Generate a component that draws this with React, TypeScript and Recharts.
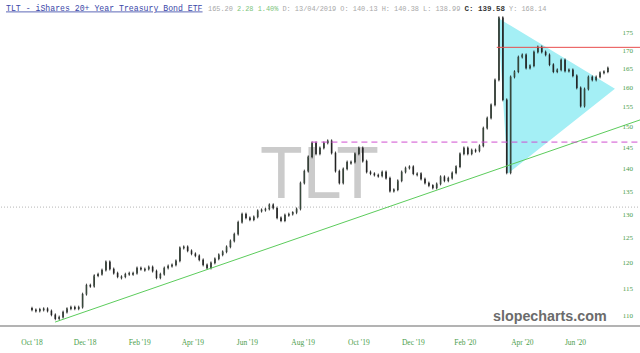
import React from "react";
import { Area, Bar, ComposedChart, ReferenceLine, XAxis, YAxis } from "recharts";

const W = 640;
const H = 353;
const STEP = 3; // trading days between plotted candles

// closes every 3 trading days, starting 1 Oct 2018
const closes = [
  111.1, 110.9, 111.2, 111.3, 110.9, 110.2, 109.5, 109.8, 110.7, 111.3,
  111.6, 111.3, 111.6, 114.0, 115.7, 115.5, 117.5, 117.8, 118.6, 120.2,
  118.8, 118.0, 117.3, 117.3, 117.8, 118.0, 118.0, 119.0, 118.8, 118.8,
  119.2, 118.4, 117.1, 117.8, 119.0, 119.4, 119.6, 120.4, 123.0, 123.2,
  122.4, 121.8, 121.4, 120.6, 119.6, 119.0, 120.0, 120.8, 121.6, 122.2,
  123.2, 124.4, 125.8, 128.3, 130.0, 129.2, 128.8, 129.4, 130.7, 130.9,
  131.1, 132.0, 131.3, 129.2, 128.6, 129.8, 130.0, 130.3, 131.1, 136.8,
  139.5, 142.8, 146.1, 143.5, 144.9, 146.1, 146.6, 143.7, 139.5, 136.8,
  140.0, 141.6, 141.6, 143.5, 144.9, 141.8, 139.3, 138.9, 138.6, 138.4,
  139.3, 137.9, 135.0, 135.3, 137.3, 139.3, 140.2, 140.5, 138.9, 138.9,
  137.7, 136.8, 136.2, 135.7, 136.6, 138.2, 137.3, 137.9, 139.1, 140.5,
  143.5, 144.9, 143.5, 144.4, 144.2, 145.4, 149.7, 152.2, 155.5, 162.0,
  179.4, 156.8, 139.1, 162.8, 164.2, 168.2, 168.8, 165.2, 165.8, 169.6,
  171.0, 169.6, 168.8, 166.1, 164.2, 164.7, 167.4, 164.4, 164.7, 163.1,
  159.9, 155.2, 159.6, 162.8, 162.0, 162.8, 163.9, 164.2, 165.2,
];
const firstOpen = 111.4;

const xTickDays = [0, 41, 83, 124, 166, 209, 252, 294, 334, 378, 419];
const xTickLabels = ["Oct '18", "Dec '18", "Feb '19", "Apr '19", "Jun '19", "Aug '19", "Oct '19", "Dec '19", "Feb '20", "Apr '20", "Jun '20"];
const yTicks = [110, 115, 120, 125, 130, 135, 140, 145, 150, 155, 160, 165, 170, 175];

// triangle drawn on the chart (day, lower, upper)
const triangleDays = [359.1, 366.8, 449.4];
const triangleLow = [179.4, 138.9, 159.7];
const triangleHigh = [179.4, 177.6, 159.7];

const resistance = { from: 358.3, price: 170.9 };
const breakout = { from: 215.4, price: 146.3 };
const trendStart = { d: 17.8, p: 108.9 };
const trendEnd = { d: 469.5, p: 151.8 };
const dottedLevel = 131.5;

const DOMAIN_X: [number, number] = [-24.7, 469.5];
const DOMAIN_Y: [number, number] = [108.2, 184.7];
const AXIS_GREEN = "#4b9e4b";

const chartData = closes.map((c, i) => {
  const prev = i === 0 ? firstOpen : closes[i - 1];
  return { d: i * STEP, body: [Math.min(prev, c), Math.max(prev, c)], up: c >= prev };
});

const triData = triangleDays.map((d, i) => ({ d, tri: [triangleLow[i], triangleHigh[i]] }));

const Candle = (props: any) => {
  const { x, y, width, height, payload } = props;
  if (x == null || y == null) return null;
  const h = Math.max(Math.abs(height), 1.2);
  const top = height < 0 ? y + height : y;
  const mid = x + width / 2;
  return (
    <g>
      <line x1={mid} x2={mid} y1={top - 1.5} y2={top + h + 1.5} stroke="#1c1c1c" strokeWidth={0.8} />
      <rect
        x={x}
        y={top}
        width={width}
        height={h}
        fill={payload.up ? "#5d8a66" : "#2b2b2b"}
        stroke="#1c1c1c"
        strokeWidth={0.6}
      />
    </g>
  );
};

export default function App() {
  return (
    <div style={{ position: "absolute", left: 0, top: 0, width: W, height: H, background: "#fff", overflow: "hidden" }}>
      {/* watermark */}
      <svg width={W} height={H} style={{ position: "absolute", left: 0, top: 0 }}>
        <text
          x={260}
          y={198}
          fontSize={74}
          fontFamily="'Liberation Sans', Arial, sans-serif"
          fill="#cbcbcb"
          textLength={119}
          lengthAdjust="spacingAndGlyphs"
        >
          TLT
        </text>
      </svg>

      <div style={{ position: "absolute", left: 0, top: 0 }}>
        <ComposedChart width={W} height={H} data={chartData} margin={{ top: 0, right: -1, left: 0, bottom: 0 }}>
          <XAxis
            dataKey="d"
            type="number"
            domain={DOMAIN_X}
            allowDataOverflow
            ticks={xTickDays}
            interval={0}
            tickFormatter={(v: number) => xTickLabels[xTickDays.indexOf(v)] ?? ""}
            tick={{ fontSize: 7.5, fill: AXIS_GREEN, fontFamily: "'Liberation Serif', serif" }}
            axisLine={{ stroke: "#9a9a9a", strokeWidth: 1.5 }}
            tickLine={false}
            tickSize={0}
            tickMargin={14}
            height={27}
          />
          <YAxis
            orientation="right"
            mirror
            scale="log"
            domain={DOMAIN_Y}
            allowDataOverflow
            ticks={yTicks}
            interval={0}
            width={1}
            axisLine={false}
            tickLine={false}
            tickSize={0}
            tickMargin={8}
            tick={{ fontSize: 7, fill: AXIS_GREEN, fontFamily: "'Liberation Serif', serif" }}
          />
          <ReferenceLine y={dottedLevel} stroke="#b5b5b5" strokeDasharray="1 2" />
          <Area
            data={triData}
            dataKey="tri"
            type="linear"
            stroke="none"
            fill="#a4eff5"
            fillOpacity={1}
            dot={false}
            activeDot={false}
            isAnimationActive={false}
          />
          <ReferenceLine
            segment={[{ x: trendStart.d, y: trendStart.p }, { x: trendEnd.d, y: trendEnd.p }]}
            stroke="#5ccc5c"
            strokeWidth={1}
          />
          <Bar dataKey="body" barSize={3.4} shape={<Candle />} isAnimationActive={false} />
          <ReferenceLine
            segment={[{ x: resistance.from, y: resistance.price }, { x: DOMAIN_X[1], y: resistance.price }]}
            stroke="#e84c4c"
            strokeWidth={1}
          />
          <ReferenceLine
            segment={[{ x: breakout.from, y: breakout.price }, { x: DOMAIN_X[1], y: breakout.price }]}
            stroke="#d04fd0"
            strokeDasharray="6 4"
            strokeWidth={1}
          />
        </ComposedChart>
      </div>

      {/* header and logo */}
      <svg width={W} height={H} style={{ position: "absolute", left: 0, top: 0, pointerEvents: "none" }}>
        <text x={6} y={10.5} fontSize={8.2} fontFamily="'Liberation Mono', monospace" fill="#3b48a8" textDecoration="underline">
          TLT - iShares 20+ Year Treasury Bond ETF
        </text>
        <text x={208} y={10.5} fontSize={6.9} fontFamily="'Liberation Mono', monospace" fill="#a8a8a8" style={{ whiteSpace: "pre" }}>
          <tspan>165.20 </tspan>
          <tspan fill="#7cc47c">2.28 1.40% </tspan>
          <tspan>D: 13/04/2019 O: 140.13 H: 140.38 L: 138.99 </tspan>
          <tspan fill="#333" fontWeight="bold" fontSize={7.5}>C: 139.58</tspan>
          <tspan> Y: 168.14</tspan>
        </text>
        <text x={493} y={321} fontSize={14.3} fontWeight="bold" fontFamily="'Liberation Sans', Arial, sans-serif" fill="#6b6b6b">
          slopecharts.com
        </text>
      </svg>
    </div>
  );
}
